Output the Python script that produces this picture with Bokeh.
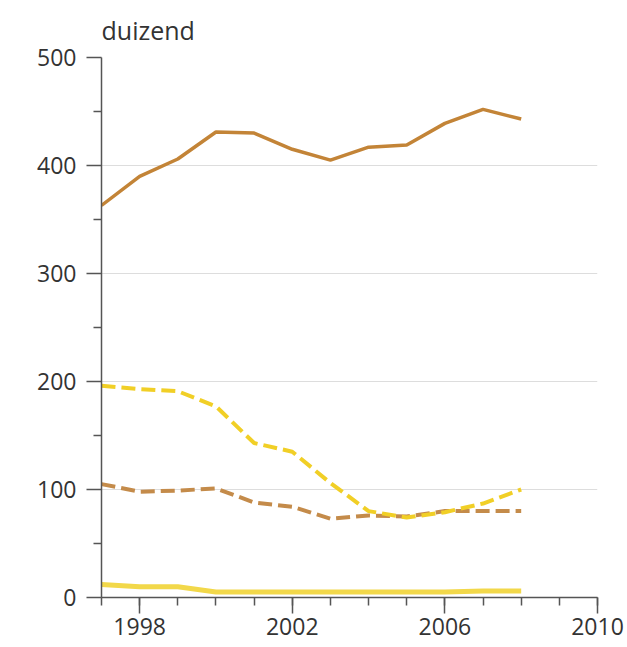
from bokeh.plotting import figure
from bokeh.models import FixedTicker, Range1d
from bokeh.embed import file_html
from bokeh.resources import INLINE

years = [1997, 1998, 1999, 2000, 2001, 2002, 2003, 2004, 2005, 2006, 2007, 2008]
solid_brown = [363, 390, 406, 431, 430, 415, 405, 417, 419, 439, 452, 443]
dashed_yellow = [196, 193, 191, 177, 143, 135, 106, 80, 74, 79, 87, 100]
dashed_brown = [105, 98, 99, 101, 88, 84, 73, 76, 75, 80, 80, 80]
solid_yellow = [12, 10, 10, 5, 5, 5, 5, 5, 5, 5, 6, 6]

x_major = [1998, 2002, 2006, 2010]
x_minor = list(range(1997, 2011))
y_major = [0, 100, 200, 300, 400, 500]
y_minor = [50, 150, 250, 350, 450]

FONT = "Open Sans"

p = figure(width=627, height=647, output_backend="svg", toolbar_location=None,
           x_range=Range1d(1997, 2010), y_range=Range1d(0, 500),
           min_border_left=101, min_border_right=30, min_border_top=57, min_border_bottom=50,
           title="duizend")
p.outline_line_color = None
p.background_fill_color = "white"
p.border_fill_color = "white"

p.title.align = "left"
p.title.text_font = FONT
p.title.text_font_style = "normal"
p.title.text_font_size = "25px"
p.title.text_color = "#333333"
p.title.standoff = 21

p.xgrid.grid_line_color = None
p.ygrid.grid_line_color = "#dddddd"
p.ygrid.grid_line_width = 1

p.xaxis.ticker = FixedTicker(ticks=x_major, minor_ticks=x_minor)
p.yaxis.ticker = FixedTicker(ticks=y_major, minor_ticks=y_minor)
for ax in (p.xaxis, p.yaxis):
    ax.axis_line_color = "#555555"
    ax.axis_line_width = 1.5
    ax.major_tick_line_color = "#555555"
    ax.minor_tick_line_color = "#555555"
    ax.major_tick_line_width = 1.5
    ax.minor_tick_line_width = 1.5
    ax.major_tick_in = 0
    ax.minor_tick_in = 0
    ax.major_label_text_font = FONT
    ax.major_label_text_font_size = "23px"
    ax.major_label_text_color = "#333333"
p.xaxis.major_tick_out = 16
p.xaxis.minor_tick_out = 8
p.yaxis.major_tick_out = 15
p.yaxis.minor_tick_out = 8
p.xaxis.major_label_standoff = 4
p.yaxis.major_label_standoff = 10

p.line(years, solid_yellow, line_color="#F2D84A", line_width=5)
p.line(years, dashed_brown, line_color="#C48B4A", line_width=4, line_dash="14 6")
p.line(years, dashed_yellow, line_color="#F1CF26", line_width=4, line_dash="14 6")
p.line(years, solid_brown, line_color="#C38437", line_width=3.5)

open("out.html", "w").write(file_html(p, INLINE))
